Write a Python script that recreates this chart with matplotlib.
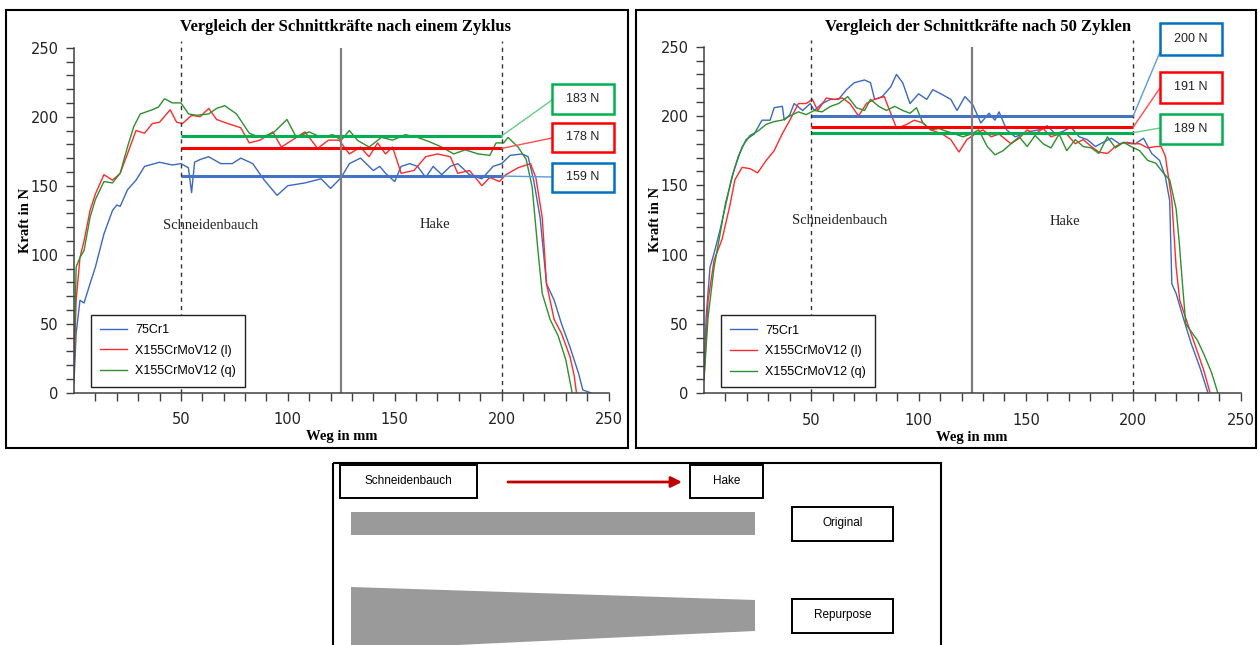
import matplotlib.pyplot as plt
from matplotlib.patches import Rectangle, Polygon, ConnectionPatch
import numpy as np

W, H = 1259, 645

#######################################
#### Data
#######################################
names = ['75Cr1', 'X155CrMoV12 (l)', 'X155CrMoV12 (q)']

# --- nach einem Zyklus ---
z1_blue_x = [0, 1, 2.8, 4.7, 7.5, 10, 14, 18, 20, 21.6, 25, 29, 33, 40, 46, 50, 53.5, 55, 56.4, 59,
             63, 68.6, 74, 78, 83.6, 89, 95, 100, 108, 115.6, 120, 125, 128.8, 134, 140, 143, 145.7,
             150, 153, 157, 160.7, 164.5, 168, 172, 176, 179.5, 185, 190.8, 196, 200, 204, 209.6,
             212.4, 215, 218, 221, 224.6, 228, 232, 236, 238, 241.5]
z1_blue_y = [7, 43, 67, 65, 79, 91, 115, 132, 136, 135, 147, 154, 164, 167, 165, 166, 163, 145, 167, 169,
             171, 166, 166, 170, 166, 154, 143, 150, 152, 155, 148, 156, 166, 170, 161, 164, 159,
             153, 164, 166, 164, 156, 164, 158, 164, 166, 158, 155, 164, 166, 172, 173,
             171, 154, 127, 79, 67, 50, 33, 14, 2, 0]
z1_red_x = [0, 1, 2.8, 4.7, 7.5, 10, 14, 18, 21.6, 25, 29, 33, 36.6, 40, 45, 48, 50.7, 55, 59, 63,
            66.7, 72, 78, 82, 87, 93, 97, 102, 108, 114, 119, 124, 128.8, 134, 138, 142, 145.7, 149,
            153, 159, 164.5, 170, 176, 179.5, 185, 190.8, 194.5, 199, 202, 207.7, 213.5, 216, 219,
            221, 224.6, 228, 232, 234, 235]
z1_red_y = [14, 67, 98, 110, 132, 144, 158, 154, 159, 173, 190, 188, 195, 196, 205, 196, 195, 201, 200, 206,
            198, 195, 192, 181, 183, 189, 178, 183, 189, 177, 183, 183, 173, 178, 171, 181, 173, 178,
            159, 161, 171, 173, 171, 159, 161, 150, 156, 153, 158, 163, 166, 156, 127,
            79, 53, 43, 26, 12, 0]
z1_green_x = [0, 1, 2.8, 4.7, 7.5, 10, 14, 18, 21.6, 25, 28, 31, 36.6, 39.5, 42.3, 46, 50, 53.6, 57.3, 63,
              66.7, 70.5, 76, 82, 87, 93, 97, 99.6, 104, 110, 115.6, 121, 125, 128.8, 132.5, 138, 143.8,
              149, 155, 160.7, 166, 172, 177.6, 183, 189, 194.5, 197.4, 201, 203, 207.7, 211.5, 214.3,
              217, 219, 222.7, 226.5, 230, 233]
z1_green_y = [19, 91, 98, 103, 127, 140, 153, 152, 159, 178, 193, 202, 205, 207, 213, 210, 210, 202, 201, 202,
              206, 208, 202, 188, 185, 188, 194, 198, 185, 189, 185, 187, 183, 190, 183, 178, 185,
              183, 187, 185, 182, 178, 173, 176, 173, 172, 181, 181, 185, 178, 169, 149,
              103, 72, 53, 41, 24, 0]
z1_levels = [157, 177, 186]      # drawn mean lines (blue, red, green)
z1_labels = [159, 178, 183]      # values in the boxes

# --- nach 50 Zyklen ---
z50_blue_x = [0, 1, 2.8, 4.7, 7.5, 10, 13, 16, 19.6, 23.4, 27, 30.8, 32.7, 36.5, 37.4, 40, 42, 46, 49.5, 51.4,
              55, 59, 62.7, 66.4, 70, 74.8, 77.6, 79.5, 83, 87, 89.7, 92.6, 96, 100, 103.8, 106.6, 110.4,
              115, 117.9, 121.6, 125.3, 129, 132.8, 135.6, 137.5, 141, 145, 148.7, 152.4, 156, 160,
              163.7, 167.4, 171, 174.8, 178.6, 182.4, 186, 189.8, 193.6, 197, 201, 204.8, 208.6, 212.3,
              215, 217, 218, 220, 223.6, 227, 231, 234.7]
z50_blue_y = [10, 55, 91, 101, 118, 135, 156, 171, 183, 187, 197, 197, 206, 207, 197, 201, 209, 204, 209, 204,
              209, 212, 212, 219, 224, 226, 224, 212, 214, 221, 230, 224, 209, 216, 212, 219, 216,
              212, 204, 214, 208, 195, 202, 197, 203, 190, 185, 187, 189, 190, 193,
              187, 189, 192, 185, 183, 178, 181, 184, 180, 181, 180, 184, 173, 168,
              156, 139, 79, 72, 53, 36, 19, 1]
z50_red_x = [0, 1.9, 4.7, 8.4, 12, 14.4, 17.8, 21.5, 25, 29, 32.7, 36.4, 40, 44, 47.6, 50.5, 53, 57, 60.7,
             64.5, 68, 72, 75.7, 79.4, 84, 87, 89.8, 94.5, 98, 102, 105.7, 111, 115, 118.8, 122.5, 126.3,
             130, 133.8, 137.5, 143, 146.9, 150.6, 154.3, 158, 161.7, 165.5, 169, 173, 176.7, 180.5,
             184, 188, 191.7, 195.5, 199, 203, 206.7, 210.5, 213, 215, 218, 220, 221.7, 225.4, 229,
             232.8, 235.7]
z50_red_y = [10, 67, 96, 111, 135, 154, 163, 162, 159, 168, 175, 187, 197, 209, 209, 212, 204, 213, 212,
             213, 209, 200, 209, 212, 214, 202, 191, 194, 197, 195, 190, 187, 183, 174, 183, 187,
             190, 185, 187, 180, 184, 190, 187, 191, 185, 187, 187, 180, 183, 178,
             174, 173, 178, 181, 180, 180, 177, 178, 178, 171, 139, 91, 67, 50, 34,
             17, 1]
z50_green_x = [0, 1.9, 4.7, 7.5, 10, 14, 17.8, 21.5, 25, 29, 32.7, 36.4, 40, 44, 47.6, 51.4, 55, 59, 62.7,
               67, 71, 74.8, 77.6, 81.4, 85, 88.9, 92.6, 96, 99, 102, 105.7, 109.4, 113, 117, 120.7,
               124.4, 128, 132, 135.6, 139.4, 143, 146.9, 150.6, 154.3, 158, 161.7, 165.5, 169, 173,
               176.7, 180.5, 184, 188, 191.7, 195.5, 199, 203, 206.7, 210.5, 214, 217, 220, 221.5, 223,
               224.5, 230, 233, 236.5, 239.5]
z50_green_y = [10, 55, 91, 115, 137, 161, 178, 186, 189, 194, 196, 197, 200, 203, 201, 204, 203, 207, 209,
               214, 206, 204, 212, 207, 204, 207, 204, 202, 206, 195, 190, 191, 189, 187, 185,
               187, 190, 178, 172, 175, 180, 185, 178, 186, 180, 177, 187, 175, 183,
               178, 177, 173, 185, 177, 181, 178, 175, 168, 166, 159, 154, 133, 108, 78,
               50, 38, 28, 15, 0]
z50_levels = [200, 192, 188]
z50_labels = [200, 191, 189]

#######################################
#### Styles / layout
#######################################
curve_cols = ['#3a68c4', '#ff2a2a', '#2e8f2e']
mean_cols = ['#4472c4', '#ff0000', '#00b050']
box_cols = ['#0070c0', '#ff0000', '#00b050']
conn_cols = ['#5b9bd5', '#ff4d4d', '#66cc8a']
serif = 'Liberation Serif'
sans = 'Liberation Sans'

fig = plt.figure(figsize=(W / 100, H / 100), dpi=100)

def px_rect(x0, x1, ytop, ybot):
    return [x0 / W, 1 - ybot / H, (x1 - x0) / W, (ybot - ytop) / H]

ax1 = fig.add_axes(px_rect(74, 608.5, 47.7, 392.7))
ax2 = fig.add_axes(px_rect(704, 1240.5, 46.7, 393.3))

ov = fig.add_axes([0, 0, 1, 1], zorder=5)
ov.set_xlim(0, W)
ov.set_ylim(H, 0)
ov.axis('off')
ov.patch.set_alpha(0)


def draw_panel(ax, xs, ys, levels, txt_pos):
    for x, y, c, n in zip(xs, ys, curve_cols, names):
        ax.plot(x, y, color=c, lw=1.0, label=n)
    for lvl, c in zip(levels, mean_cols):
        ax.plot([50, 200], [lvl, lvl], color=c, lw=2.2, solid_capstyle='butt')
    for xv in (50, 200):
        ax.axvline(xv, ymin=0, ymax=1.02, ls=(0, (3, 3)), color='#333333', lw=1, clip_on=False)
    ax.axvline(125, ymin=0, ymax=1, color='#7f7f7f', lw=1.6)
    ax.text(txt_pos[0][0], txt_pos[0][1], 'Schneidenbauch', family=serif, fontsize=10.5,
            ha='center', va='center', color='#222222')
    ax.text(txt_pos[1][0], txt_pos[1][1], 'Hake', family=serif, fontsize=10.5,
            ha='center', va='center', color='#222222')

    ax.set_xlim(0, 250)
    ax.set_ylim(0, 250)
    ax.set_xticks([50, 100, 150, 200, 250])
    ax.set_xticks(np.arange(10, 251, 10), minor=True)
    ax.set_yticks([0, 50, 100, 150, 200, 250])
    ax.set_yticks(np.arange(10, 250, 10), minor=True)
    ax.tick_params(which='both', direction='out', length=6, width=1, color='#404040')
    ax.tick_params(axis='x', pad=8, labelsize=10.5, labelcolor='#222222')
    ax.tick_params(axis='y', pad=5, labelsize=10.5, labelcolor='#222222')
    for s in ('top', 'right'):
        ax.spines[s].set_visible(False)
    for s in ('left', 'bottom'):
        ax.spines[s].set_color('#404040')
        ax.spines[s].set_linewidth(1.1)
    ax.set_xlabel('Weg in mm', family=serif, fontweight='bold', fontsize=10.5, labelpad=2)
    ax.set_ylabel('Kraft in N', family=serif, fontweight='bold', fontsize=10.5, labelpad=-1)
    leg = ax.legend(loc='lower left', bbox_to_anchor=(0.02, -0.001), fancybox=False,
                    edgecolor='#222222', framealpha=1, prop={'family': sans, 'size': 9},
                    handlelength=2.1, handletextpad=0.7, labelspacing=0.7, borderpad=0.75)
    leg.get_frame().set_linewidth(1.0)


draw_panel(ax1, [z1_blue_x, z1_red_x, z1_green_x], [z1_blue_y, z1_red_y, z1_green_y],
           z1_levels, [(64, 121), (169, 122)])
draw_panel(ax2, [z50_blue_x, z50_red_x, z50_green_x], [z50_blue_y, z50_red_y, z50_green_y],
           z50_levels, [(63, 125), (168, 124)])

ov.text(346, 27, 'Vergleich der Schnittkräfte nach einem Zyklus', family=serif,
        fontweight='bold', fontsize=12, ha='center', va='center')
ov.text(978, 27, 'Vergleich der Schnittkräfte nach 50 Zyklen', family=serif,
        fontweight='bold', fontsize=12, ha='center', va='center')

# panel frames
ov.add_patch(Rectangle((6, 10), 622, 438, fill=False, ec='black', lw=1.5))
ov.add_patch(Rectangle((636, 10), 620, 438, fill=False, ec='black', lw=1.5))
ov.add_patch(Rectangle((333, 463), 608, 200, fill=False, ec='black', lw=1.5))

# value boxes + connectors (blue, red, green)
boxes_1 = [(163, 192), (123, 152), (84, 114)]
anchor_1 = [177, 138, 100]
boxes_50 = [(23, 55), (72, 103), (114, 144)]
anchor_50 = [52, 88, 128]
for ax, bx0, bx1, boxes, anchors, lvls, labs in (
        (ax1, 552, 614, boxes_1, anchor_1, z1_levels, z1_labels),
        (ax2, 1160, 1222, boxes_50, anchor_50, z50_levels, z50_labels)):
    for (yt, yb), ya, lvl, lab, bc, cc in zip(boxes, anchors, lvls, labs, box_cols, conn_cols):
        ov.add_patch(Rectangle((bx0, yt), bx1 - bx0, yb - yt, fill=True, fc='white', ec=bc, lw=1.8))
        ov.text((bx0 + bx1) / 2, (yt + yb) / 2, '%d N' % lab, family=sans, fontsize=9,
                ha='center', va='center', color='#222222')
        con = ConnectionPatch(xyA=(200, lvl), coordsA=ax.transData, xyB=(bx0, ya),
                              coordsB=ov.transData, color=cc, lw=1.0)
        fig.add_artist(con)

# schematic below
for (x0, y0, w, h, t) in [(340, 465, 137, 33, 'Schneidenbauch'), (690, 465, 73, 33, 'Hake'),
                          (792, 507, 101, 34, 'Original'), (792, 599, 101, 34, 'Repurpose')]:
    ov.add_patch(Rectangle((x0, y0), w, h, fill=False, ec='black', lw=1.4))
    ov.text(x0 + w / 2, y0 + h / 2 - 1, t, family=sans, fontsize=8.5, ha='center', va='center')
ov.annotate('', xy=(682, 482), xytext=(508, 482),
            arrowprops=dict(arrowstyle='-|>', color='#c00000', lw=2, mutation_scale=16,
                            shrinkA=0, shrinkB=0))
ov.add_patch(Rectangle((351, 512), 404, 23, color='#9a9a9a', lw=0))
ov.add_patch(Polygon([(351, 587), (755, 600), (755, 631), (351, 650)], closed=True,
                     color='#9a9a9a', lw=0))

fig.savefig('out.png', dpi=100)
